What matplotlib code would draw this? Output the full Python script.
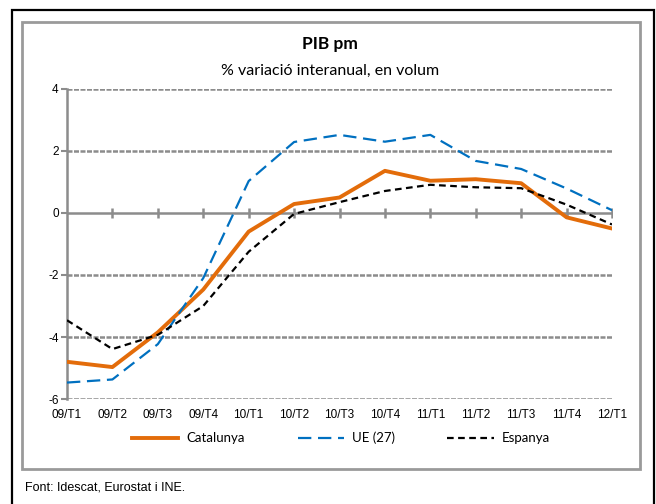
import matplotlib as mpl
import matplotlib.pyplot as plt
from matplotlib.patches import Rectangle

quarters = ["09/T1", "09/T2", "09/T3", "09/T4", "10/T1", "10/T2", "10/T3",
            "10/T4", "11/T1", "11/T2", "11/T3", "11/T4", "12/T1"]
catalunya = [-4.8, -4.97, -3.85, -2.47, -0.6, 0.29, 0.5, 1.36, 1.04, 1.09, 0.96, -0.14, -0.5]
ue27 = [-5.47, -5.37, -4.23, -2.1, 1.03, 2.29, 2.52, 2.3, 2.52, 1.68, 1.42, 0.79, 0.09]
espanya = [-3.46, -4.39, -3.93, -3.0, -1.25, -0.03, 0.35, 0.71, 0.91, 0.83, 0.8, 0.27, -0.37]
y_ticks = [-6, -4, -2, 0, 2, 4]

GRAY = "#8c8c8c"
TEXT_FONT = ["Lato", "DejaVu Sans"]
TICK_FONT = ["Liberation Sans", "DejaVu Sans"]

mpl.rcParams["font.family"] = TICK_FONT

fig = plt.figure(figsize=(6.56, 5.04), dpi=100)
W, H = 656, 504

# outer black frame and inner gray chart frame
fig.patches.append(Rectangle((12 / W, -0.01), (654 - 12) / W, 1 - 10 / H + 0.01,
                             transform=fig.transFigure, fill=False, edgecolor="black", lw=1.6))
fig.patches.append(Rectangle((22 / W, 1 - 469 / H), (640 - 22) / W, (469 - 22) / H,
                             transform=fig.transFigure, fill=False, edgecolor="#9a9a9a", lw=2))

ax = fig.add_axes([67 / W, 1 - 399 / H, (612 - 67) / W, (399 - 89) / H])
x = list(range(len(quarters)))

for v in y_ticks:
    if v != 0:
        ax.axhline(v, color=GRAY, lw=1.8, ls=(0, (2, 0.6)), zorder=1)
ax.axhline(0, color=GRAY, lw=1.8, zorder=1)
ax.plot(x[1:], [0] * (len(x) - 1), ls="", marker="|", ms=7, mew=1.8, color=GRAY, zorder=1)

ax.plot(x, catalunya, color="#e36c0a", lw=2.8, label="Catalunya", zorder=3)
ax.plot(x, ue27, color="#0070c0", lw=1.6, ls=(0, (6, 3)), label="UE (27)", zorder=3)
ax.plot(x, espanya, color="black", lw=1.6, ls=(0, (3, 2)), label="Espanya", zorder=3)

ax.set_xlim(0, len(quarters) - 1)
ax.set_ylim(-6, 4)
ax.set_yticks(y_ticks)
ax.set_yticklabels([str(v) for v in y_ticks], fontsize=8.5)
ax.set_xticks(x)
ax.set_xticklabels(quarters, fontsize=8.5)
ax.tick_params(axis="x", length=0, pad=7)
ax.tick_params(axis="y", length=4, width=1.5, color=GRAY, pad=2)
for side in ["top", "right", "bottom"]:
    ax.spines[side].set_visible(False)
ax.spines["left"].set_color(GRAY)
ax.spines["left"].set_linewidth(1.8)
ax.set_facecolor("none")

fig.text(330 / W, 1 - 44 / H, "PIB pm", ha="center", va="center",
         fontsize=12.5, fontweight="bold", family=TEXT_FONT)
fig.text(330 / W, 1 - 71 / H, "% variació interanual, en volum", ha="center", va="center",
         fontsize=11.5, family=TEXT_FONT)

fig.legend(loc="center", bbox_to_anchor=(341 / W, 1 - 438 / H), ncol=3, frameon=False,
           prop={"family": TEXT_FONT, "size": 9.5}, handlelength=3.5, columnspacing=4.0,
           handletextpad=0.6)

fig.text(25 / W, 1 - 487 / H, "Font: Idescat, Eurostat i INE.", ha="left", va="center",
         fontsize=9, family=["Liberation Sans Narrow", "Liberation Sans", "DejaVu Sans"])

fig.savefig("out.png", dpi=100)
